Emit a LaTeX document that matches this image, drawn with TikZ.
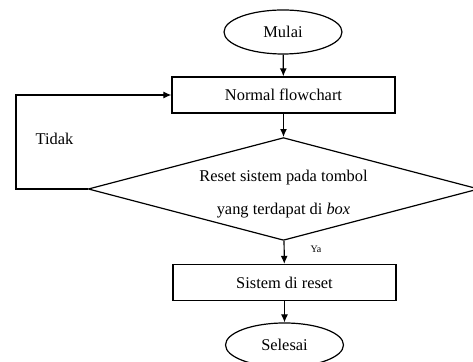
\documentclass[tikz,border=0pt]{standalone}
\usepackage{fontspec}
\setmainfont{Liberation Serif}
\usetikzlibrary{shapes.geometric,arrows.meta}
\begin{document}
\begin{tikzpicture}[x=0.5pt, y=-0.5pt, line width=0.6pt,
  term/.style={ellipse, draw, minimum width=59pt, minimum height=22pt, inner sep=0pt, font=\fontsize{8.2}{10}\selectfont},
  proc/.style={rectangle, draw, minimum width=111.5pt, minimum height=18pt, inner sep=0pt, font=\fontsize{8.2}{10}\selectfont},
  cek/.style={diamond, draw, aspect=3.8, minimum width=192.5pt, minimum height=51pt, inner sep=0pt, align=center, font=\fontsize{8.2}{16.5}\selectfont},
  lbl/.style={inner sep=0pt, font=\fontsize{8.2}{10}\selectfont},
  arr/.style={-{Latex[length=4pt,width=3.5pt]}}]
\useasboundingbox (0,0) rectangle (473,362);
\node[term] (mulai) at (283,32){Mulai};
\node[proc] (normal) at (283.5,95){Normal flowchart};
\node[cek] (reset) at (283.5,189){\rule{0pt}{11pt}Reset sistem pada tombol\\yang terdapat di \textit{box}};
\node[proc] (sistem) at (284.5,282.5){Sistem di reset};
\node[term] (selesai) at (284.5,345){Selesai};
\coordinate (kiri) at (16,189);
\node[lbl, anchor=west] (tidak) at (35,139){Tidak};
\node[lbl, anchor=west, font=\fontsize{5}{6}\selectfont] (ya) at (310,249){Ya};
\draw[arr](mulai) -- (normal);
\draw[arr](normal) -- (reset);
\draw[arr](reset) -- (sistem);
\draw[arr](sistem) -- (selesai);
\draw[arr](reset.west) -- (kiri) |- (normal.west);
\end{tikzpicture}
\end{document}
